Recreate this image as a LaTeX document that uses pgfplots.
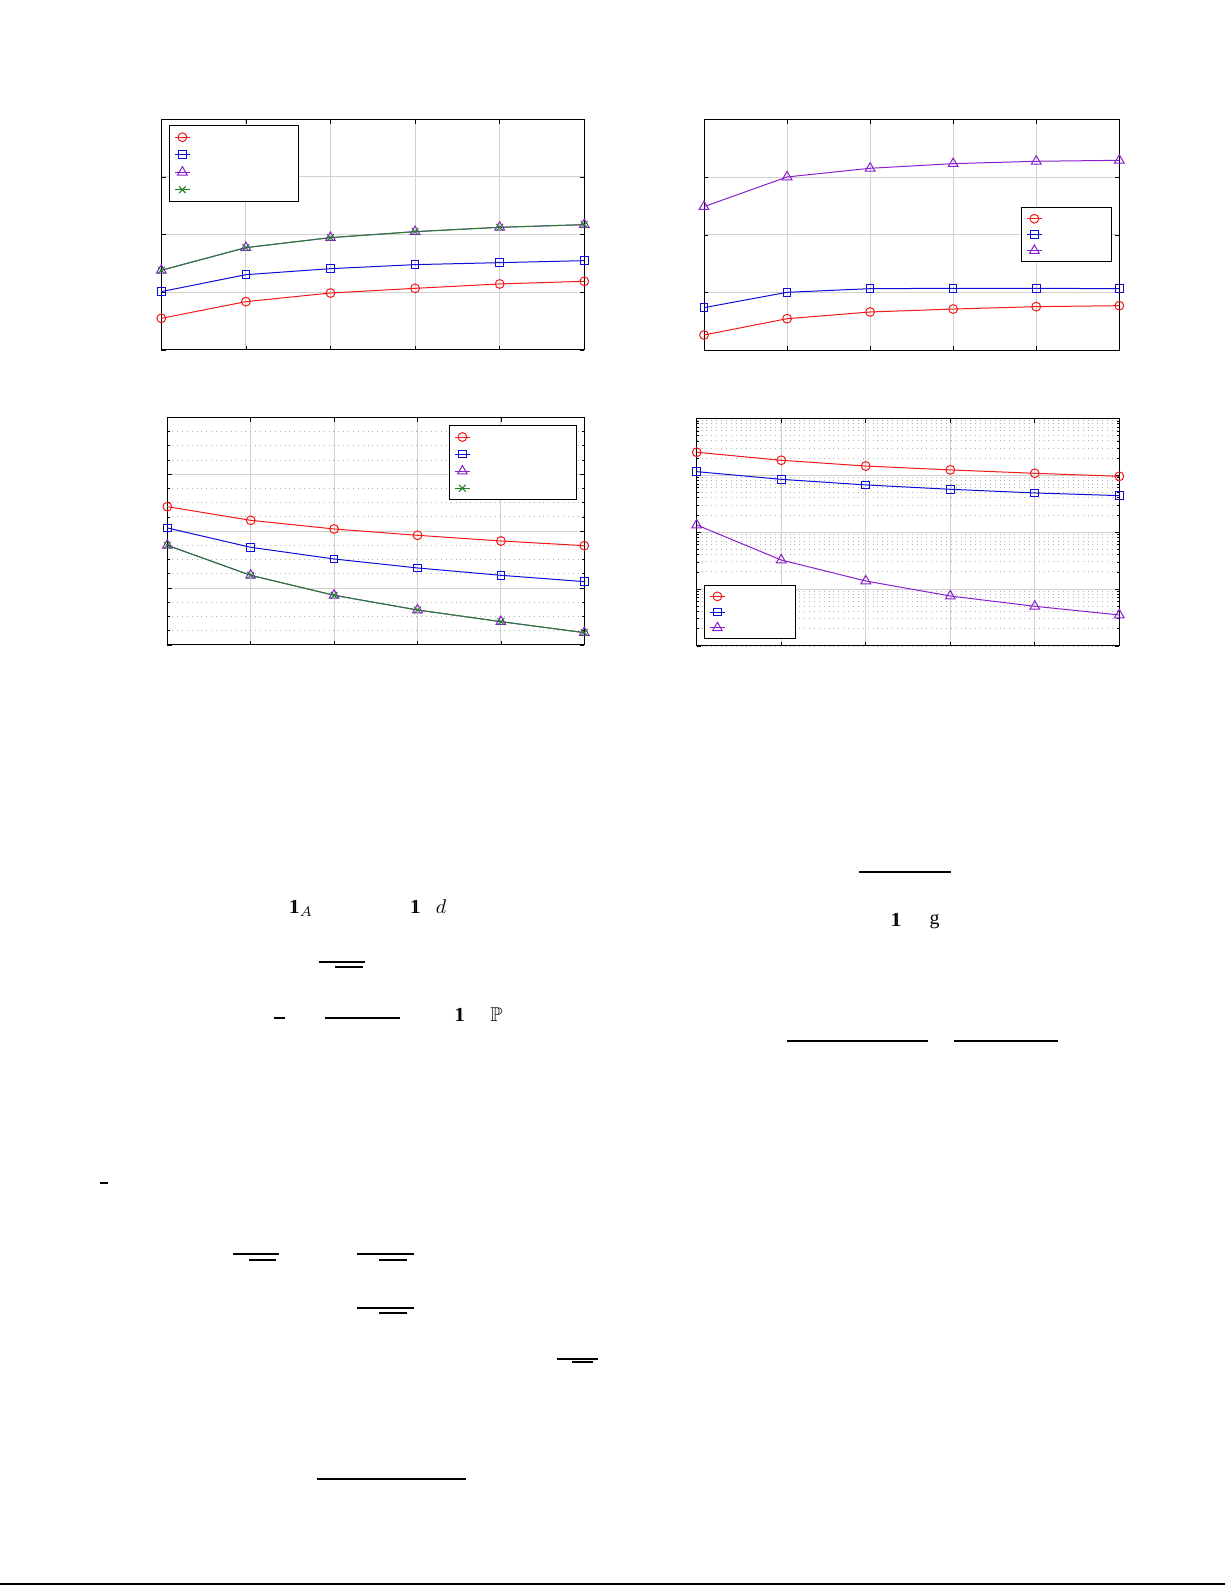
\documentclass[border=0pt]{standalone}
\usepackage{amssymb}
\usepackage{fontspec}
\setmainfont{Liberation Serif}
\usepackage{pgfplots}
\pgfplotsset{compat=1.18}
\definecolor{mred}{rgb}{0.95,0.1,0.1}
\definecolor{mblue}{rgb}{0.05,0.05,0.85}
\definecolor{mpurp}{rgb}{0.55,0.12,0.8}
\definecolor{mgreen}{rgb}{0.12,0.5,0.15}
\newcommand{\one}{\mbox{\rmfamily 1\kern-0.43em1}}
\pgfplotsset{
  pagestyle/.style={
    scale only axis, clip=false,
    xmin=1, xmax=6, xtick={1,2,3,4,5,6},
    xticklabels={}, yticklabels={},
    tick align=inside,
    major tick length=2.2bp, minor tick length=1.3bp,
    axis line style={line width=0.5bp, black},
    every tick/.style={black, line width=0.4bp},
    xmajorgrids, ymajorgrids,
    major grid style={line width=0.5bp, black!18},
    minor grid style={line width=0.45bp, black!30, dotted},
    every axis plot/.append style={line width=0.5bp},
    legend cell align=left,
    legend style={draw=black, line width=0.5bp, fill=white, inner xsep=2.3bp, inner ysep=1.5bp,
      nodes={inner sep=0pt}, row sep=0pt, column sep=0pt},
  },
  legrow/.style={legend image code/.code={%
    \path[draw=none,fill=none] (0bp,-#1) -- (0bp,#1);
    \draw[mark repeat=2,mark phase=2,##1] plot coordinates {(0bp,0bp) (3.75bp,0bp) (7.5bp,0bp)};}},
  sred/.style={color=mred, mark=o, mark size=2.2bp, mark options={solid}},
  sblue/.style={color=mblue, mark=square, mark size=1.9bp, mark options={solid}},
  spurp/.style={color=mpurp, mark=triangle, mark size=2.8bp, mark options={solid}},
  sgreen/.style={color=mgreen, mark=x, mark size=2.4bp, mark options={solid}},
}
\begin{document}
\begin{tikzpicture}
\path[use as bounding box] (0,0) rectangle (612.5bp,792.5bp);

% ---------- top left ----------
\begin{axis}[pagestyle, legrow=4.375bp, at={(80.65bp,617.5bp)}, anchor=south west,
  width=211.5bp, height=115.35bp, ymin=0, ymax=4, ytick={0,1,2,3,4},
  legend style={at={(0.0189,0.9753)}, anchor=north west}]
\addplot[sred] coordinates {(1,0.549)(2,0.838)(3,0.988)(4,1.069)(5,1.145)(6,1.191)};
\addlegendentry{\rule[-4.375bp]{0pt}{8.75bp}\makebox[51.9bp]{}}
\addplot[sblue] coordinates {(1,1.012)(2,1.306)(3,1.410)(4,1.480)(5,1.514)(6,1.549)};
\addlegendentry{\rule[-4.375bp]{0pt}{8.75bp}\makebox[51.9bp]{}}
\addplot[spurp] coordinates {(1,1.382)(2,1.775)(3,1.948)(4,2.052)(5,2.127)(6,2.173)};
\addlegendentry{\rule[-4.375bp]{0pt}{8.75bp}\makebox[51.9bp]{}}
\addplot[sgreen] coordinates {(1,1.382)(2,1.775)(3,1.948)(4,2.052)(5,2.127)(6,2.173)};
\addlegendentry{\rule[-4.375bp]{0pt}{8.75bp}\makebox[51.9bp]{}}
\end{axis}

% ---------- top right ----------
\begin{axis}[pagestyle, legrow=3.98bp, at={(352bp,617.15bp)}, anchor=south west,
  width=207.65bp, height=115.7bp, ymin=0, ymax=4, ytick={0,1,2,3,4},
  legend style={at={(0.9831,0.6197)}, anchor=north east}]
\addplot[sred] coordinates {(1,0.271)(2,0.553)(3,0.669)(4,0.720)(5,0.761)(6,0.778)};
\addlegendentry{\rule[-3.98bp]{0pt}{7.96bp}\makebox[32.4bp]{}}
\addplot[sblue] coordinates {(1,0.744)(2,1.009)(3,1.072)(4,1.078)(5,1.078)(6,1.072)};
\addlegendentry{\rule[-3.98bp]{0pt}{7.96bp}\makebox[32.4bp]{}}
\addplot[spurp] coordinates {(1,2.490)(2,3.003)(3,3.153)(4,3.233)(5,3.274)(6,3.291)};
\addlegendentry{\rule[-3.98bp]{0pt}{7.96bp}\makebox[32.4bp]{}}
\end{axis}

% ---------- bottom left ----------
\begin{axis}[pagestyle, legrow=4.27bp, at={(83.65bp,470bp)}, anchor=south west,
  width=208.5bp, height=113.85bp, ymin=0, ymax=4, ytick={0,1,2,3,4},
  minor y tick num=3, yminorgrids,
  legend style={at={(0.9832,0.9662)}, anchor=north east}]
\addplot[sred] coordinates {(1,2.430)(2,2.190)(3,2.038)(4,1.927)(5,1.827)(6,1.745)};
\addlegendentry{\rule[-4.27bp]{0pt}{8.54bp}\makebox[50.9bp]{}}
\addplot[sblue] coordinates {(1,2.056)(2,1.716)(3,1.511)(4,1.353)(5,1.224)(6,1.113)};
\addlegendentry{\rule[-4.27bp]{0pt}{8.54bp}\makebox[50.9bp]{}}
\addplot[spurp] coordinates {(1,1.751)(2,1.224)(3,0.873)(4,0.615)(5,0.410)(6,0.217)};
\addlegendentry{\rule[-4.27bp]{0pt}{8.54bp}\makebox[50.9bp]{}}
\addplot[sgreen] coordinates {(1,1.751)(2,1.224)(3,0.873)(4,0.615)(5,0.410)(6,0.217)};
\addlegendentry{\rule[-4.27bp]{0pt}{8.54bp}\makebox[50.9bp]{}}
\end{axis}

% ---------- bottom right ----------
\begin{axis}[pagestyle, legrow=3.94bp, at={(348.35bp,469.5bp)}, anchor=south west,
  width=211.3bp, height=113.85bp, ymode=log, ymin=1e-4, ymax=1,
  ytick={1e-4,1e-3,1e-2,1e-1,1}, yminorgrids,
  legend style={at={(0.018,0.0294)}, anchor=south west}]
\addplot[sred] coordinates {(1,0.253)(2,0.183)(3,0.145)(4,0.124)(5,0.108)(6,0.0957)};
\addlegendentry{\rule[-3.94bp]{0pt}{7.88bp}\makebox[32.9bp]{}}
\addplot[sblue] coordinates {(1,0.1156)(2,0.0847)(3,0.0675)(4,0.0566)(5,0.0488)(6,0.0438)};
\addlegendentry{\rule[-3.94bp]{0pt}{7.88bp}\makebox[32.9bp]{}}
\addplot[spurp] coordinates {(1,0.01337)(2,0.00324)(3,0.001387)(4,0.000755)(5,0.000498)(6,0.000351)};
\addlegendentry{\rule[-3.94bp]{0pt}{7.88bp}\makebox[32.9bp]{}}
\end{axis}

% ---------- remnants of the page text ----------
\begin{scope}[line width=0.85bp]
\draw (159.3bp,311.5bp) -- (182.3bp,311.5bp);
\draw (167.5bp,309.15bp) -- (181.25bp,309.15bp);
\draw (136.95bp,283.65bp) -- (142.5bp,283.65bp);
\draw (162.5bp,283.65bp) -- (199.8bp,283.65bp);
\draw (429.5bp,356.65bp) -- (475.35bp,356.65bp);
\draw (393.7bp,272bp) -- (464bp,272bp);
\draw (477bp,272bp) -- (529.1bp,272bp);
\draw (50bp,201bp) -- (53.95bp,201bp);
\draw (116.45bp,165.5bp) -- (139.45bp,165.5bp);
\draw (124.45bp,162.5bp) -- (138.05bp,162.5bp);
\draw (178.55bp,165.5bp) -- (206.95bp,165.5bp);
\draw (189.3bp,162.5bp) -- (203.55bp,162.5bp);
\draw (178.55bp,138.5bp) -- (206.95bp,138.5bp);
\draw (189.3bp,136bp) -- (203.55bp,136bp);
\draw (278.55bp,113bp) -- (298.95bp,113bp);
\draw (286.05bp,111.5bp) -- (296.45bp,111.5bp);
\draw (158.55bp,53bp) -- (233.05bp,53bp);
\draw (0bp,0.65bp) -- (612.5bp,0.65bp);
\end{scope}
\node[anchor=base west, inner sep=0pt] at (144.1bp,335.5bp) {$\one_A$};
\node[anchor=base west, inner sep=0pt] at (204.65bp,335.5bp) {\one};
\node[anchor=base west, inner sep=0pt] at (217.7bp,335.5bp) {$d$};
\node[anchor=base west, inner sep=0pt] at (226.8bp,281.5bp) {\one};
\node[anchor=base west, inner sep=0pt] at (245bp,281.5bp) {$\mathbb{P}$};
\node[anchor=base west, inner sep=0pt] at (445bp,329bp) {\one};
\node[anchor=base west, inner sep=0pt] at (464.65bp,330bp) {g};
\end{tikzpicture}
\end{document}
